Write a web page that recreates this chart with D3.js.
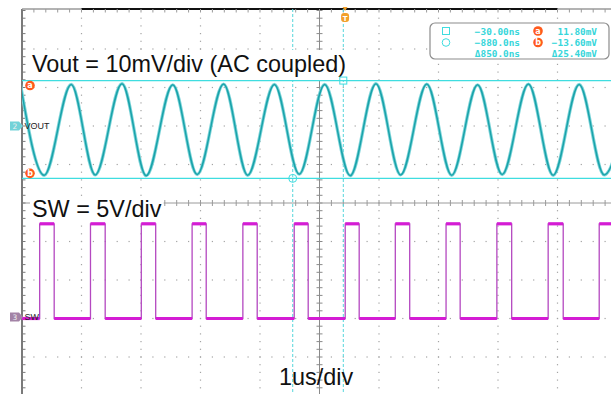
<!DOCTYPE html>
<html><head><meta charset="utf-8">
<script src="https://cdn.jsdelivr.net/npm/d3@7"></script>
<style>body{margin:0;background:#fff}svg{display:block}</style>
</head><body><svg id="c" width="611" height="394"></svg>
<script>
// ---------------- data ----------------
// Vout (AC coupled) ripple: alternating peaks / troughs, time in us relative to trigger, value in mV
const voutTimesUs = [-5.457,-5.057,-4.603,-4.200,-3.750,-3.343,-2.896,-2.486,-2.042,-1.637,-1.188,-0.771,
                     -0.343,0.086,0.519,0.934,1.373,1.792,2.227,2.640,3.081,3.497,3.934,4.355,4.792];
const voutMv      = [10.9,-12.8,10.8,-12.7,11.0,-12.9,10.7,-12.6,10.9,-12.8,10.8,-12.5,
                     10.8,-12.9,11.0,-12.7,10.9,-12.8,10.7,-12.6,10.9,-12.8,10.8,-12.7,10.8];
// SW node: rising / falling edge times (us), levels (V)
const swRiseUs = [-5.133,-4.279,-3.425,-2.571,-1.718,-0.855,0.002,0.844,1.697,2.551,3.413,4.271];
const swFallUs = [-4.889,-4.032,-3.183,-2.334,-1.477,-0.620,0.237,1.086,1.934,2.800,3.666,4.514];
const swHighV = 12.1;
const swLowV = -0.2;
// cursors
const cursorTimesNs = [-30, -880];
const cursorLevelsMv = [11.8, -13.6];
// settings / labels
const timePerDivUs = 1;
const screenCenterUs = -0.43;
const voutMvPerDiv = 10;
const voutOffsetDiv = 2;
const swVPerDiv = 5;
const swOffsetDiv = -2.96;
const labelTexts = ["Vout = 10mV/div (AC coupled)", "SW = 5V/div", "1us/div"];

// ---------------- layout ----------------
const W = 611, H = 394;
const X0 = 22, DIVW = 59.5, Y0 = 203, DIVH = 38.5, TOP = 9;
const svg = d3.select("#c");

const divX = d3.scaleLinear().domain([-5, 5]).range([X0, X0 + 10 * DIVW]);
const divY = d3.scaleLinear().domain([-5, 5]).range([Y0 + 5 * DIVH, Y0 - 5 * DIVH]);
const tX = d3.scaleLinear()
  .domain([screenCenterUs - 5 * timePerDivUs, screenCenterUs + 5 * timePerDivUs])
  .range([divX(-5), divX(5)]);
const voutY = d3.scaleLinear().domain([0, voutMvPerDiv]).range([divY(voutOffsetDiv), divY(voutOffsetDiv + 1)]);
const swY = d3.scaleLinear().domain([0, swVPerDiv]).range([divY(swOffsetDiv), divY(swOffsetDiv + 1)]);

svg.append("defs").append("clipPath").attr("id", "scr")
  .append("rect").attr("x", X0).attr("y", TOP).attr("width", W - X0).attr("height", H - TOP);

// ---------------- graticule ----------------
const g = svg.append("g");
const minor = d3.range(-25, 26).map(i => i / 5);
const dotC = "#a4a4a4";
[-4, -3, -2, -1, 1, 2, 3, 4].forEach(d => {
  g.append("g").selectAll("rect").data(minor.filter(v => divY(v) > TOP + 2 && divY(v) < H))
    .enter().append("rect")
    .attr("x", divX(d) - 0.6).attr("y", v => divY(v) - 0.6)
    .attr("width", 1.2).attr("height", 1.2).attr("fill", dotC);
  g.append("g").selectAll("rect").data(minor.filter(v => divX(v) > X0 + 2 && divX(v) < W))
    .enter().append("rect")
    .attr("x", v => divX(v) - 0.6).attr("y", divY(d) - 0.6)
    .attr("width", 1.2).attr("height", 1.2).attr("fill", dotC);
});
// center axes
g.append("line").attr("x1", divX(0)).attr("x2", divX(0)).attr("y1", TOP).attr("y2", H)
  .attr("stroke", "#8a8a8a").attr("stroke-width", 1);
g.append("g").selectAll("line").data(minor.filter(v => divY(v) > TOP && divY(v) < H)).enter().append("line")
  .attr("x1", divX(0) - 3).attr("x2", divX(0) + 3).attr("y1", v => divY(v)).attr("y2", v => divY(v))
  .attr("stroke", "#8a8a8a").attr("stroke-width", 1);
g.append("line").attr("x1", X0).attr("x2", W).attr("y1", divY(0)).attr("y2", divY(0))
  .attr("stroke", "#9a9a9a").attr("stroke-width", 1);
g.append("g").selectAll("line").data(minor.filter(v => divX(v) > X0 && divX(v) < W)).enter().append("line")
  .attr("x1", v => divX(v)).attr("x2", v => divX(v)).attr("y1", divY(0) - 3).attr("y2", divY(0) + 3)
  .attr("stroke", "#9a9a9a").attr("stroke-width", 1);
// left border + ticks
g.append("line").attr("x1", X0).attr("x2", X0).attr("y1", TOP).attr("y2", H)
  .attr("stroke", "#7a7a7a").attr("stroke-width", 2);
g.append("g").selectAll("line").data(minor.filter(v => divY(v) > TOP && divY(v) < H)).enter().append("line")
  .attr("x1", X0).attr("x2", X0 + 3.5).attr("y1", v => divY(v)).attr("y2", v => divY(v))
  .attr("stroke", "#7a7a7a").attr("stroke-width", 1);
// top border + ticks
g.append("line").attr("x1", X0).attr("x2", W).attr("y1", TOP).attr("y2", TOP)
  .attr("stroke", "#9a9a9a").attr("stroke-width", 1.5);
g.append("line").attr("x1", divX(-4)).attr("x2", divX(4)).attr("y1", TOP).attr("y2", TOP)
  .attr("stroke", "#111").attr("stroke-width", 2);
g.append("g").selectAll("line").data(minor.filter(v => divX(v) > X0 && divX(v) < W)).enter().append("line")
  .attr("x1", v => divX(v)).attr("x2", v => divX(v)).attr("y1", TOP).attr("y2", TOP + 3.5)
  .attr("stroke", "#9a9a9a").attr("stroke-width", 1);

// ---------------- vertical (time) cursors ----------------
const cyan = "#3fdde0";
svg.append("g").selectAll("line").data(cursorTimesNs).enter().append("line")
  .attr("x1", d => tX(d / 1000)).attr("x2", d => tX(d / 1000))
  .attr("y1", TOP).attr("y2", H)
  .attr("stroke", "#55d6dc").attr("stroke-width", 1).attr("stroke-dasharray", "3,2");

// ---------------- traces ----------------
const tr = svg.append("g").attr("clip-path", "url(#scr)");
const voutData = voutTimesUs.map((t, i) => [t, voutMv[i]]);
const voutLine = d3.line().x(d => tX(d[0])).y(d => voutY(d[1])).curve(d3.curveMonotoneX);
tr.append("path").attr("d", voutLine(voutData)).attr("fill", "none")
  .attr("stroke", "#7fd5da").attr("stroke-width", 3.3).attr("stroke-linejoin", "round");
tr.append("path").attr("d", voutLine(voutData)).attr("fill", "none")
  .attr("stroke", "#1aa3aa").attr("stroke-width", 1.5).attr("stroke-linejoin", "round");

const t0 = tX.domain()[0], t1 = tX.domain()[1];
const swPts = [[t0, swLowV]];
swRiseUs.forEach((r, i) => {
  swPts.push([r, swLowV], [r, swHighV], [swFallUs[i], swHighV], [swFallUs[i], swLowV]);
});
swPts.push([t1, swLowV]);
const swLine = d3.line().x(d => tX(d[0])).y(d => swY(d[1]));
tr.append("path").attr("d", swLine(swPts)).attr("fill", "none")
  .attr("stroke", "#b448c0").attr("stroke-width", 1.3);
// noisy plateaus
const plateaus = [];
let prev = t0;
swRiseUs.forEach((r, i) => {
  plateaus.push([[prev, swLowV], [r, swLowV]]);
  plateaus.push([[r, swHighV], [swFallUs[i], swHighV]]);
  prev = swFallUs[i];
});
plateaus.push([[prev, swLowV], [t1, swLowV]]);
tr.append("g").selectAll("path").data(plateaus).enter().append("path")
  .attr("d", d => swLine(d)).attr("fill", "none")
  .attr("stroke", "#d41cd4").attr("stroke-width", 3.2);

// ---------------- annotation labels ----------------
const lab = svg.append("g").attr("font-family", "'Liberation Sans', Arial, sans-serif")
  .attr("font-size", 23.4).attr("fill", "#111");
const labPos = [[32, 72, 50, 80], [32, 217, 199, 220], [279, 385, null, null]];
labelTexts.forEach((s, i) => {
  const p = labPos[i];
  const txt = lab.append("text").attr("x", p[0]).attr("y", p[1]).text(s);
  if (p[2] !== null) {
    const bb = txt.node().getBBox();
    lab.insert("rect", "text").attr("x", bb.x - 2).attr("y", p[2])
      .attr("width", bb.width + 4).attr("height", p[3] - p[2]).attr("fill", "#fff");
  }
});

// ---------------- horizontal (level) cursors ----------------
svg.append("g").selectAll("line").data(cursorLevelsMv).enter().append("line")
  .attr("x1", X0).attr("x2", W).attr("y1", d => voutY(d)).attr("y2", d => voutY(d))
  .attr("stroke", cyan).attr("stroke-width", 1.2);
// cursor markers
svg.append("rect").attr("x", tX(cursorTimesNs[0] / 1000) - 3.5).attr("y", voutY(cursorLevelsMv[0]) - 3.5)
  .attr("width", 7).attr("height", 7).attr("fill", "none").attr("stroke", cyan).attr("stroke-width", 1);
svg.append("circle").attr("cx", tX(cursorTimesNs[1] / 1000)).attr("cy", voutY(cursorLevelsMv[1]))
  .attr("r", 4).attr("fill", "none").attr("stroke", cyan).attr("stroke-width", 1);

// a / b level markers on the left
const orange = "#ff5a1c";
function badge(x, y, letter, r) {
  svg.append("circle").attr("cx", x).attr("cy", y).attr("r", r).attr("fill", orange);
  svg.append("text").attr("x", x).attr("y", y + 2.8).attr("text-anchor", "middle")
    .attr("font-family", "'DejaVu Sans', sans-serif").attr("font-weight", "bold")
    .attr("font-size", 8).attr("fill", "#fff").text(letter);
}
badge(30, voutY(cursorLevelsMv[0]) + 5, "a", 4.8);
badge(30, voutY(cursorLevelsMv[1]) - 5, "b", 4.8);

// channel markers
function chan(y, num, fill, label) {
  svg.append("path").attr("d", `M10,${y - 4.5}H19L23,${y}L19,${y + 4.5}H10Z`).attr("fill", fill);
  svg.append("text").attr("x", 15).attr("y", y + 3).attr("text-anchor", "middle")
    .attr("font-family", "'DejaVu Sans', sans-serif").attr("font-size", 7.5).attr("fill", "#eee").text(num);
  svg.append("text").attr("x", 24.5).attr("y", y + 3.4)
    .attr("font-family", "'Liberation Sans', Arial, sans-serif").attr("font-size", 9)
    .attr("fill", "#222").text(label);
}
chan(voutY(0), "2", "#72d2d8", "VOUT");
chan(swY(0), "3", "#a383a6", "SW");

// trigger marker
const trx = tX(0);
svg.append("path").attr("d", `M${trx - 2.5},${TOP - 2}L${trx + 2.5},${TOP - 2}L${trx},${TOP + 2}Z`).attr("fill", "#f2a02a");
svg.append("rect").attr("x", trx - 4).attr("y", 13).attr("width", 8).attr("height", 9).attr("rx", 3)
  .attr("fill", "#f2a02a");
svg.append("text").attr("x", trx).attr("y", 20.5).attr("text-anchor", "middle")
  .attr("font-family", "'DejaVu Sans', sans-serif").attr("font-weight", "bold")
  .attr("font-size", 7).attr("fill", "#fff").text("T");

// ---------------- cursor readout box ----------------
const fmt = d3.format(".4r");
const lg = svg.append("g");
lg.append("rect").attr("x", 430).attr("y", 23).attr("width", 179).attr("height", 36).attr("rx", 5)
  .attr("fill", "#fff").attr("stroke", "#8c8c8c").attr("stroke-width", 1.2);
const mono = "'DejaVu Sans Mono', monospace";
const rowsY = [34.5, 46, 57];
lg.append("rect").attr("x", 442.5).attr("y", 27.5).attr("width", 7).attr("height", 7)
  .attr("fill", "none").attr("stroke", cyan).attr("stroke-width", 1);
lg.append("circle").attr("cx", 446).attr("cy", 42.5).attr("r", 3.8)
  .attr("fill", "none").attr("stroke", cyan).attr("stroke-width", 1);
const dT = Math.abs(cursorTimesNs[0] - cursorTimesNs[1]);
const dV = Math.abs(cursorLevelsMv[0] - cursorLevelsMv[1]);
const leftTxt = [fmt(cursorTimesNs[0]) + "ns", fmt(cursorTimesNs[1]) + "ns", "Δ" + fmt(dT) + "ns"];
const rightTxt = [fmt(cursorLevelsMv[0]) + "mV", fmt(cursorLevelsMv[1]) + "mV", "Δ" + fmt(dV) + "mV"];
leftTxt.forEach((s, i) => lg.append("text").attr("x", 520).attr("y", rowsY[i]).attr("text-anchor", "end")
  .attr("font-family", mono).attr("font-weight", "bold").attr("font-size", 9.4).attr("fill", "#36d6da").text(s));
rightTxt.forEach((s, i) => lg.append("text").attr("x", 597).attr("y", rowsY[i]).attr("text-anchor", "end")
  .attr("font-family", mono).attr("font-weight", "bold").attr("font-size", 9.4).attr("fill", "#36d6da").text(s));
[["a", 31], ["b", 42.5]].forEach(([l, y]) => {
  lg.append("circle").attr("cx", 538).attr("cy", y).attr("r", 4.8).attr("fill", orange);
  lg.append("text").attr("x", 538).attr("y", y + 2.8).attr("text-anchor", "middle")
    .attr("font-family", "'DejaVu Sans', sans-serif").attr("font-weight", "bold")
    .attr("font-size", 8).attr("fill", "#fff").text(l);
});
</script></body></html>
